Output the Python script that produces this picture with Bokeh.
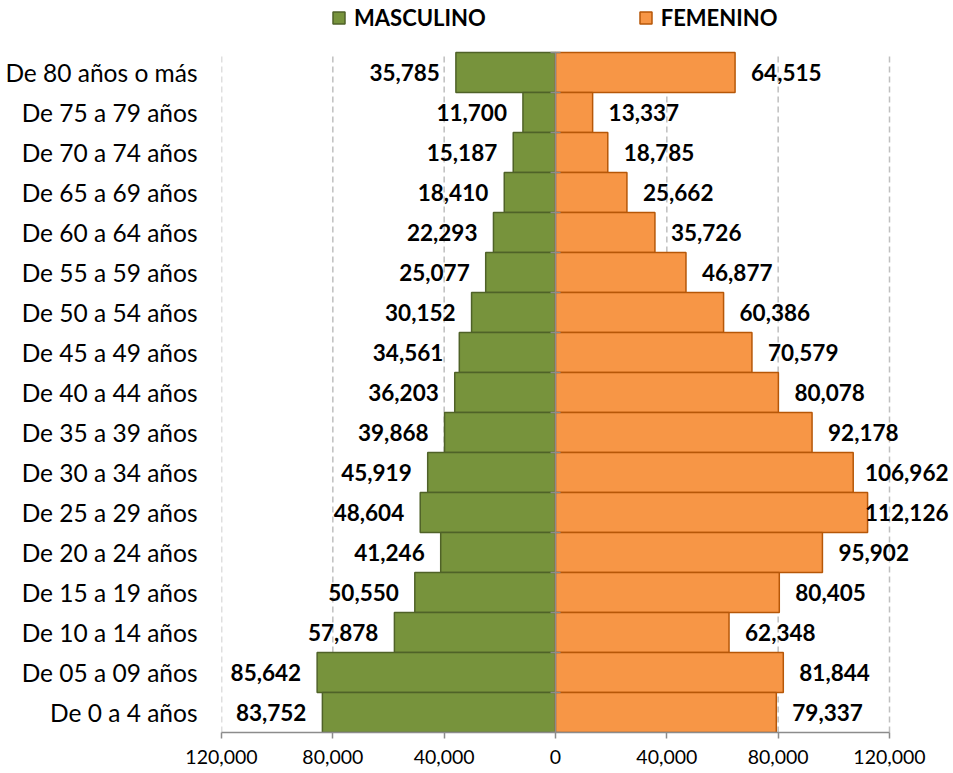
from bokeh.plotting import figure
from bokeh.models import (Range1d, FixedTicker, Legend, LegendItem,
                          ColumnDataSource)
from bokeh.core.properties import value
from bokeh.embed import file_html
from bokeh.resources import INLINE

# ---------------- data ----------------
categories = [
    "De 80 años o más", "De 75 a 79 años", "De 70 a 74 años", "De 65 a 69 años",
    "De 60 a 64 años", "De 55 a 59 años", "De 50 a 54 años", "De 45 a 49 años",
    "De 40 a 44 años", "De 35 a 39 años", "De 30 a 34 años", "De 25 a 29 años",
    "De 20 a 24 años", "De 15 a 19 años", "De 10 a 14 años", "De 05 a 09 años",
    "De 0 a 4 años",
]
masculino = [35785, 11700, 15187, 18410, 22293, 25077, 30152, 34561, 36203,
             39868, 45919, 48604, 41246, 50550, 57878, 85642, 83752]
femenino = [64515, 13337, 18785, 25662, 35726, 46877, 60386, 70579, 80078,
            92178, 106962, 112126, 95902, 80405, 62348, 81844, 79337]
x_ticks = [-120000, -80000, -40000, 0, 40000, 80000, 120000]
x_tick_labels = ["120,000", "80,000", "40,000", "0", "40,000", "80,000", "120,000"]
series_names = ["MASCULINO", "FEMENINO"]

# ---------------- style / layout ----------------
GREEN, GREEN_LINE = "#77933C", "#4F6228"
ORANGE, ORANGE_LINE = "#F79646", "#B65708"
AXIS_GRAY, GRID_GRAY = "#8C8C8C", "#BFBFBF"
FONT = "Lato"
AXIS_W = 668          # pixel width of the -120k..120k span
ROW_PX = 40           # pixel height of one age group
EXTRA_R = 64          # room right of the axis span (labels)
EXTRA_T = 52          # room above the bars (legend)
B_LEFT, B_BOTTOM = 221, 41
X_MIN, X_MAX = -120000, 120000
UPP = (X_MAX - X_MIN) / AXIS_W      # data units per pixel
LABEL_FS = 22.5
LABEL_OFF = 16

n = len(categories)
ypos = [n - 1 - i for i in range(n)]        # top category highest
y_lo, y_hi = -0.5, n - 0.5

p = figure(
    frame_width=AXIS_W + EXTRA_R, frame_height=n * ROW_PX + EXTRA_T,
    x_range=Range1d(X_MIN, X_MAX + EXTRA_R * UPP),
    y_range=Range1d(y_lo, y_hi + EXTRA_T / ROW_PX),
    output_backend="svg", toolbar_location=None,
    min_border_left=B_LEFT, min_border_right=0,
    min_border_top=0, min_border_bottom=B_BOTTOM,
)
p.outline_line_color = None
p.background_fill_color = "white"
p.xgrid.grid_line_color = None
p.ygrid.grid_line_color = None

# dashed vertical grid lines (limited to the bar area)
grid_ticks = [t for t in x_ticks if t != 0]
p.segment(x0=grid_ticks, x1=grid_ticks, y0=[y_lo] * len(grid_ticks),
          y1=[y_hi] * len(grid_ticks), line_color=GRID_GRAY, line_width=1.5,
          line_dash="6 4")

# bars
m_src = ColumnDataSource(dict(y=ypos, left=[-v for v in masculino],
                              right=[0] * n))
f_src = ColumnDataSource(dict(y=ypos, left=[0] * n, right=femenino))
m_r = p.hbar(y="y", left="left", right="right", height=1.0, source=m_src,
             fill_color=GREEN, line_color=GREEN_LINE, line_width=1.5)
f_r = p.hbar(y="y", left="left", right="right", height=1.0, source=f_src,
             fill_color=ORANGE, line_color=ORANGE_LINE, line_width=1.5)

# vertical category axis at zero, with cross ticks between groups
p.segment(x0=[0], x1=[0], y0=[y_lo], y1=[y_hi], line_color=AXIS_GRAY,
          line_width=1.5)
bounds_y = [k - 0.5 for k in range(n + 1)]
p.dash(x=[0] * len(bounds_y), y=bounds_y, size=10, line_color=AXIS_GRAY,
       line_width=1.5)

# data labels
def est_width(txt):
    return sum(0.26 * LABEL_FS if c == "," else 0.58 * LABEL_FS for c in txt)

lab_style = dict(text_baseline="middle", text_font=value(FONT),
                 text_font_style="bold", text_font_size=f"{LABEL_FS}px",
                 text_color="black")

p.text(x="x", y="y", text="t",
       source=ColumnDataSource(dict(x=[-v for v in masculino], y=ypos,
                                    t=[f"{v:,}" for v in masculino])),
       text_align="right", x_offset=-LABEL_OFF, **lab_style)

edge_x = X_MAX + (EXTRA_R - 5) * UPP
fit, clamp = dict(x=[], y=[], t=[]), dict(x=[], y=[], t=[])
for yy, v in zip(ypos, femenino):
    t = f"{v:,}"
    if v + (LABEL_OFF + est_width(t) + 8) * UPP <= edge_x:
        fit["x"].append(v); fit["y"].append(yy); fit["t"].append(t)
    else:
        clamp["x"].append(edge_x); clamp["y"].append(yy); clamp["t"].append(t)

p.text(x="x", y="y", text="t", source=ColumnDataSource(fit),
       text_align="left", x_offset=LABEL_OFF, **lab_style)
p.text(x="x", y="y", text="t", source=ColumnDataSource(clamp),
       text_align="right", **lab_style)

# x axis
p.xaxis.bounds = (X_MIN, X_MAX)
p.xaxis.ticker = FixedTicker(ticks=x_ticks)
p.xaxis.major_label_overrides = dict(zip(x_ticks, x_tick_labels))
p.xaxis.axis_line_color = AXIS_GRAY
p.xaxis.axis_line_width = 1.5
p.xaxis.major_tick_line_color = AXIS_GRAY
p.xaxis.major_tick_line_width = 1.5
p.xaxis.major_tick_out = 6
p.xaxis.major_tick_in = 0
p.xaxis.minor_tick_line_color = None
p.xaxis.major_label_text_font = FONT
p.xaxis.major_label_text_font_size = "19.5px"
p.xaxis.major_label_text_color = "black"
p.xaxis.major_label_standoff = 11

# y axis (category labels)
p.yaxis.ticker = FixedTicker(ticks=ypos)
p.yaxis.major_label_overrides = dict(zip(ypos, categories))
p.yaxis.axis_line_color = None
p.yaxis.major_tick_line_color = None
p.yaxis.major_tick_out = 0
p.yaxis.major_tick_in = 0
p.yaxis.minor_tick_line_color = None
p.yaxis.minor_tick_out = 0
p.yaxis.major_label_text_font = FONT
p.yaxis.major_label_text_font_size = "24.5px"
p.yaxis.major_label_text_color = "black"
p.yaxis.major_label_standoff = 24

# legend above the bars
legend = Legend(items=[LegendItem(label=series_names[0], renderers=[m_r]),
                       LegendItem(label=series_names[1], renderers=[f_r])],
                location=(110, n * ROW_PX + 21), orientation="horizontal",
                glyph_width=15, glyph_height=15, label_standoff=8,
                spacing=152, padding=0, margin=0, border_line_color=None,
                background_fill_alpha=0, label_text_font=FONT,
                label_text_font_style="bold", label_text_font_size="22px",
                label_text_color="black", label_height=24)
p.add_layout(legend, "center")

open("out.html", "w").write(file_html(p, INLINE))
